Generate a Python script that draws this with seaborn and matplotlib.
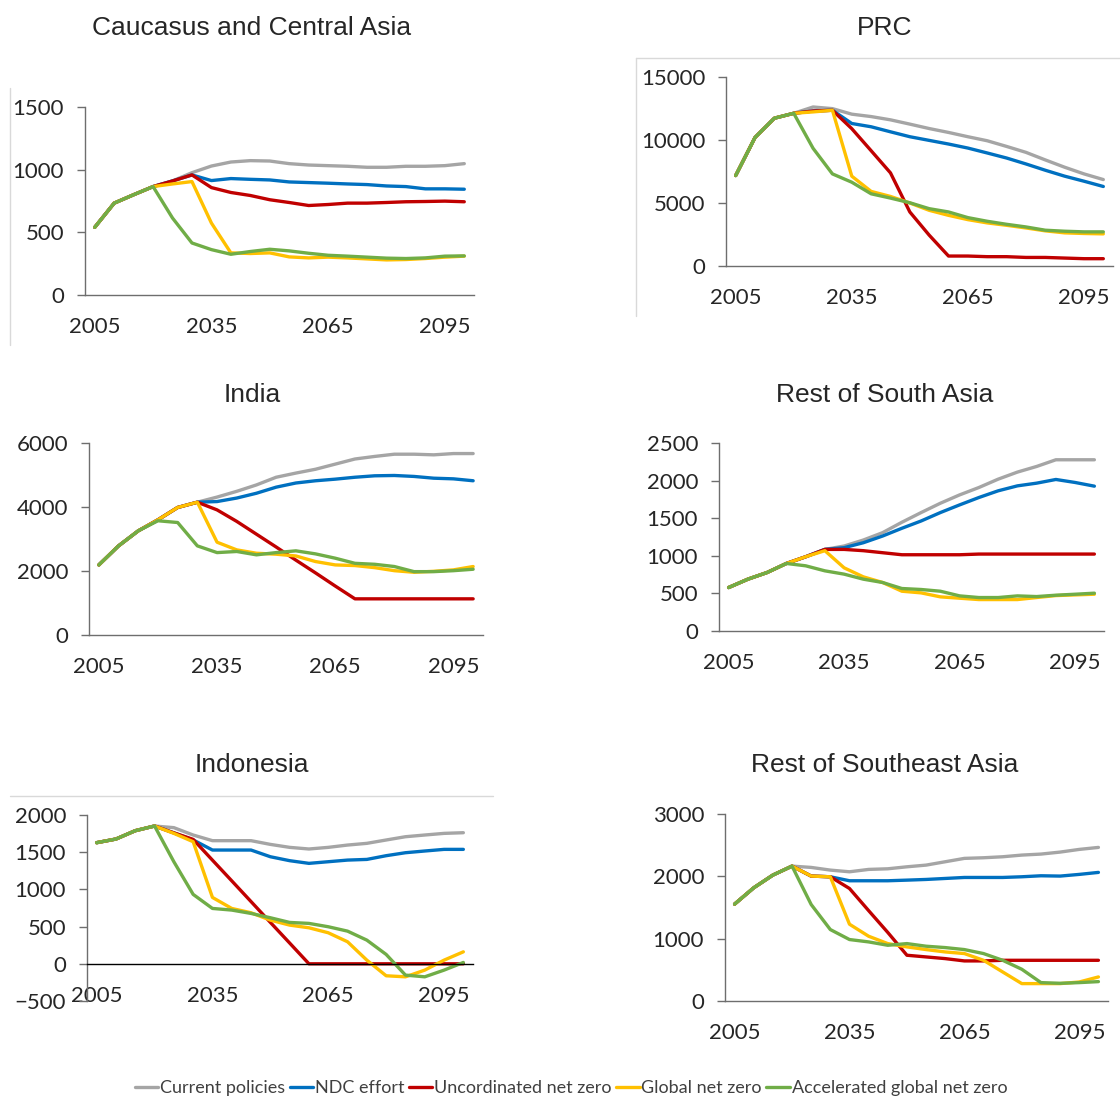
import numpy as np
import pandas as pd
import matplotlib
matplotlib.use("Agg")
import matplotlib.pyplot as plt
from matplotlib.lines import Line2D
import seaborn as sns

years = [2005, 2010, 2015, 2020, 2025, 2030, 2035, 2040, 2045, 2050,
         2055, 2060, 2065, 2070, 2075, 2080, 2085, 2090, 2095, 2100]
scenarios = ["Current policies", "NDC effort", "Uncordinated net zero",
             "Global net zero", "Accelerated global net zero"]
colors = ["#A5A5A5", "#0070C0", "#C00000", "#FFC000", "#70AD47"]
titles = ["Caucasus and Central Asia", "PRC", "India", "Rest of South Asia",
          "Indonesia", "Rest of Southeast Asia"]
xtick_labels = [2005, 2035, 2065, 2095]

cca_current = [540, 733, 800, 865, 910, 976, 1029, 1061, 1072, 1069, 1048, 1037, 1032, 1027, 1019, 1019, 1027, 1027, 1032, 1048]
cca_ndc = [540, 733, 800, 865, 910, 958, 913, 929, 923, 918, 902, 897, 892, 886, 881, 870, 865, 847, 847, 844]
cca_uncoord = [540, 733, 800, 865, 910, 958, 857, 818, 794, 760, 738, 714, 722, 733, 733, 738, 744, 746, 749, 744]
cca_global = [540, 733, 800, 865, 886, 905, 574, 336, 331, 336, 304, 296, 302, 296, 288, 280, 283, 291, 302, 310]
cca_accel = [540, 733, 800, 865, 614, 415, 362, 325, 347, 365, 352, 333, 317, 310, 302, 294, 291, 296, 310, 312]

prc_current = [7180, 10200, 11730, 12120, 12620, 12490, 12050, 11860, 11600, 11260, 10910, 10600, 10260, 9940, 9490, 9020, 8420, 7840, 7310, 6860]
prc_ndc = [7180, 10200, 11730, 12120, 12300, 12360, 11310, 11050, 10650, 10260, 9970, 9680, 9360, 8970, 8570, 8100, 7600, 7130, 6730, 6310]
prc_uncoord = [7180, 10200, 11730, 12120, 12300, 12360, 10900, 9150, 7390, 4290, 2450, 790, 790, 740, 740, 680, 680, 630, 580, 580]
prc_global = [7180, 10200, 11730, 12120, 12230, 12360, 7130, 5920, 5520, 5000, 4420, 4020, 3680, 3420, 3230, 3020, 2790, 2630, 2580, 2550]
prc_accel = [7180, 10200, 11730, 12120, 9340, 7310, 6650, 5730, 5390, 5020, 4550, 4290, 3840, 3550, 3310, 3100, 2840, 2760, 2710, 2710]

ind_current = [2190, 2785, 3255, 3600, 3985, 4150, 4310, 4490, 4690, 4930, 5060, 5180, 5340, 5500, 5580, 5650, 5650, 5630, 5670, 5670]
ind_ndc = [2190, 2785, 3255, 3600, 3985, 4150, 4170, 4280, 4430, 4620, 4750, 4820, 4870, 4930, 4975, 4985, 4955, 4900, 4880, 4820]
ind_uncoord = [2190, 2785, 3255, 3600, 3985, 4150, 3910, 3550, 3150, 2750, 2340, 1940, 1530, 1130, 1130, 1130, 1130, 1130, 1130, 1130]
ind_global = [2190, 2785, 3255, 3600, 3985, 4150, 2900, 2660, 2555, 2525, 2470, 2295, 2190, 2170, 2105, 2010, 1960, 1990, 2035, 2140]
ind_accel = [2190, 2785, 3255, 3570, 3515, 2785, 2575, 2610, 2505, 2575, 2630, 2535, 2400, 2240, 2210, 2140, 1980, 1980, 2010, 2055]

rsa_current = [578, 689, 778, 898, 987, 1085, 1130, 1210, 1308, 1446, 1575, 1699, 1810, 1908, 2019, 2113, 2188, 2277, 2277, 2277]
rsa_ndc = [578, 689, 778, 898, 987, 1085, 1108, 1174, 1263, 1366, 1463, 1575, 1677, 1775, 1864, 1930, 1966, 2015, 1975, 1926]
rsa_uncoord = [578, 689, 778, 898, 987, 1085, 1085, 1068, 1041, 1014, 1014, 1014, 1014, 1023, 1023, 1023, 1023, 1023, 1023, 1023]
rsa_global = [578, 689, 778, 898, 987, 1068, 840, 720, 645, 529, 507, 454, 436, 418, 418, 418, 445, 471, 480, 489]
rsa_accel = [578, 689, 778, 898, 867, 800, 756, 689, 645, 565, 552, 529, 467, 445, 445, 467, 458, 476, 489, 503]

idn_current = [1628, 1677, 1789, 1852, 1830, 1731, 1655, 1655, 1655, 1605, 1565, 1543, 1565, 1596, 1619, 1664, 1708, 1731, 1753, 1762]
idn_ndc = [1628, 1677, 1789, 1852, 1760, 1665, 1529, 1529, 1529, 1439, 1386, 1350, 1372, 1394, 1403, 1453, 1493, 1516, 1538, 1538]
idn_uncoord = [1628, 1677, 1789, 1852, 1760, 1672, 1393, 1115, 836, 557, 279, 0, 0, 0, 0, 0, 0, 0, 0, 0]
idn_global = [1628, 1677, 1789, 1852, 1753, 1641, 892, 744, 686, 587, 520, 484, 417, 296, 49, -161, -175, -85, 49, 161]
idn_accel = [1628, 1677, 1789, 1852, 1372, 933, 744, 722, 677, 619, 556, 543, 498, 439, 318, 126, -152, -175, -85, 18]

rsea_current = [1554, 1816, 2020, 2164, 2143, 2100, 2073, 2111, 2121, 2153, 2180, 2234, 2288, 2298, 2314, 2341, 2357, 2389, 2432, 2464]
rsea_ndc = [1554, 1816, 2020, 2164, 2004, 1993, 1929, 1929, 1929, 1939, 1950, 1966, 1982, 1982, 1982, 1993, 2009, 2004, 2031, 2063]
rsea_uncoord = [1554, 1816, 2020, 2164, 2004, 1993, 1805, 1450, 1100, 734, 707, 680, 643, 643, 653, 653, 653, 653, 653, 653]
rsea_global = [1554, 1816, 2020, 2164, 2004, 1993, 1232, 1039, 921, 868, 825, 787, 761, 653, 466, 279, 279, 279, 305, 386]
rsea_accel = [1554, 1816, 2020, 2164, 1548, 1146, 986, 948, 894, 921, 879, 857, 825, 761, 653, 509, 295, 284, 295, 311]

region_series = [
    [cca_current, cca_ndc, cca_uncoord, cca_global, cca_accel],
    [prc_current, prc_ndc, prc_uncoord, prc_global, prc_accel],
    [ind_current, ind_ndc, ind_uncoord, ind_global, ind_accel],
    [rsa_current, rsa_ndc, rsa_uncoord, rsa_global, rsa_accel],
    [idn_current, idn_ndc, idn_uncoord, idn_global, idn_accel],
    [rsea_current, rsea_ndc, rsea_uncoord, rsea_global, rsea_accel],
]
yticks_list = [
    [0, 500, 1000, 1500],
    [0, 5000, 10000, 15000],
    [0, 2000, 4000, 6000],
    [0, 500, 1000, 1500, 2000, 2500],
    [-500, 0, 500, 1000, 1500, 2000],
    [0, 1000, 2000, 3000],
]

sns.set_style("white")
plt.rcParams["font.family"] = ["Lato", "DejaVu Sans"]

W, H = 1120, 1098
fig = plt.figure(figsize=(W / 100, H / 100), dpi=100)

# pixel boxes: left, right, top, bottom
boxes = [
    (85, 474, 107, 295),
    (726, 1113, 77, 266),
    (89, 483, 443, 635),
    (719, 1104, 443, 631),
    (87, 473, 815, 1001),
    (725, 1108, 814, 1001),
]
title_pos = [(252, 28), (885, 28), (252, 395), (885, 395), (252, 765), (885, 765)]

spine_col = "#6E6E6E"
for i, (l, r, t, b) in enumerate(boxes):
    ax = fig.add_axes([l / W, 1 - b / H, (r - l) / W, (b - t) / H])
    rows = []
    for s, vals in zip(scenarios, region_series[i]):
        for y, v in zip(years, vals):
            rows.append({"year": y, "value": v, "scenario": s})
    df = pd.DataFrame(rows)
    sns.lineplot(data=df, x="year", y="value", hue="scenario", hue_order=scenarios,
                 palette=colors, linewidth=2.4, ax=ax, legend=False, sort=False)
    yt = yticks_list[i]
    ax.set_xlim(2002.5, 2102.5)
    ax.set_ylim(yt[0], yt[-1])
    ax.set_yticks(yt)
    ax.set_xticks(xtick_labels)
    ax.set_xticklabels([str(v) for v in xtick_labels])
    ax.set_xlabel("")
    ax.set_ylabel("")
    ax.patch.set_alpha(0)
    for sp in ["top", "right"]:
        ax.spines[sp].set_visible(False)
    ax.spines["left"].set_color(spine_col)
    ax.spines["bottom"].set_color(spine_col if yt[0] == 0 else "#000000")
    ax.spines["left"].set_linewidth(1.0)
    ax.spines["bottom"].set_linewidth(1.0)
    if yt[0] < 0:
        ax.spines["bottom"].set_position(("data", 0))
    ax.tick_params(axis="y", which="both", left=True, length=6, width=1.0,
                   color=spine_col, pad=9, labelsize=16, direction="out")
    ax.tick_params(axis="x", which="both", bottom=False, length=0, pad=16, labelsize=16)
    ax.grid(False)
    tx, ty = title_pos[i]
    fig.text(tx / W, 1 - ty / H, titles[i], ha="center", va="center",
             fontsize=19, family=["Liberation Sans", "DejaVu Sans"])

# faint frame remnants
fc = "#D9D9D9"
def fline(x0, y0, x1, y1):
    fig.add_artist(Line2D([x0 / W, x1 / W], [1 - y0 / H, 1 - y1 / H], color=fc, lw=1.0))
fline(10, 88, 10, 345)
fline(636, 58, 1120, 58)
fline(636, 58, 636, 316)
fline(10, 796, 493, 796)

handles = [Line2D([0], [0], color=c, lw=2.4) for c in colors]
leg = fig.legend(handles, scenarios, loc="center", bbox_to_anchor=(571 / W, 1 - 1088 / H),
                 ncol=5, frameon=False, fontsize=13, handlelength=1.3, handletextpad=0.1,
                 columnspacing=0.25, borderaxespad=0)
for txt in leg.get_texts():
    txt.set_color("#404040")

fig.savefig("out.png", dpi=100)
